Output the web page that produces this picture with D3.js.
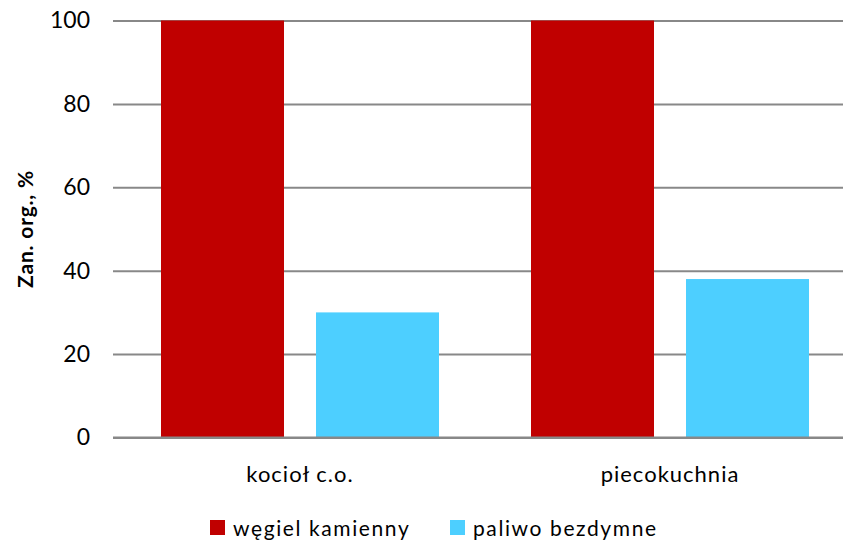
<!DOCTYPE html>
<html>
<head>
<meta charset="utf-8">
<script src="https://cdn.jsdelivr.net/npm/d3@7"></script>
<style>
  html, body { margin: 0; padding: 0; background: #fff; }
  svg { display: block; font-family: Lato, "Open Sans", sans-serif; }
</style>
</head>
<body>
<svg id="chart" width="843" height="542"></svg>
<script>
// Combustion categories and the share of organic residue per fuel type
const categories = ["kocioł c.o.", "piecokuchnia"];
const seriesNames = ["węgiel kamienny", "paliwo bezdymne"];
const coalValues = [100, 100];
const smokelessValues = [30, 38];
const yTicks = [0, 20, 40, 60, 80, 100];
const yTitle = "Zan. org., %";
const colors = ["#C00000", "#4DCFFF"];

const svg = d3.select("#chart");
const margin = { top: 20.5, right: -10, bottom: 104.5, left: 113 };
const W = 843, H = 542;
const innerW = W - margin.left - margin.right;
const innerH = H - margin.top - margin.bottom;

const g = svg.append("g").attr("transform", `translate(${margin.left},${margin.top})`);

const x0 = d3.scaleBand().domain(categories).range([0, innerW]);
// two bars per group, 123 px wide with a 32 px gap
const x1 = d3.scaleBand().domain(seriesNames).range([48, 326]).paddingInner(32 / 155).paddingOuter(0);
const y = d3.scaleLinear().domain([0, 100]).range([innerH, 0]);

// Horizontal gridlines with tick labels
const yAxis = d3.axisLeft(y).tickValues(yTicks).tickSize(-(W - margin.left)).tickPadding(23);
const yg = g.append("g").call(yAxis);
yg.select(".domain").remove();
yg.selectAll(".tick line").attr("stroke", "#888").attr("stroke-width", 2);
yg.selectAll(".tick text").attr("fill", "#000").attr("font-size", 23).attr("font-family", "Lato, sans-serif");

// Bars
const rows = categories.map((c, i) => ({ cat: c, vals: [coalValues[i], smokelessValues[i]] }));
const grp = g.selectAll(".cat").data(rows).join("g")
  .attr("transform", d => `translate(${x0(d.cat)},0)`);
grp.selectAll("rect").data(d => d.vals.map((v, j) => ({ s: seriesNames[j], v, j })))
  .join("rect")
  .attr("x", d => x1(d.s))
  .attr("width", x1.bandwidth())
  .attr("y", d => y(d.v))
  .attr("height", d => innerH - y(d.v))
  .attr("fill", d => colors[d.j]);

// Baseline redrawn above bars
g.append("line").attr("x1", 0).attr("x2", W - margin.left).attr("y1", innerH).attr("y2", innerH)
  .attr("stroke", "#888").attr("stroke-width", 2);

// Category labels, centred under each pair of bars
const groupMid = (x1(seriesNames[0]) + x1(seriesNames[1]) + x1.bandwidth()) / 2;
g.selectAll(".catlab").data(categories).join("text")
  .attr("x", d => x0(d) + groupMid)
  .attr("y", innerH + 44)
  .attr("text-anchor", "middle")
  .attr("font-size", 22)
  .attr("letter-spacing", 1)
  .attr("fill", "#000")
  .text(d => d);

// Y axis title
svg.append("text")
  .attr("transform", `translate(33,${margin.top + innerH / 2}) rotate(-90)`)
  .attr("text-anchor", "middle")
  .attr("font-weight", "bold")
  .attr("font-size", 21)
  .attr("letter-spacing", 0.8)
  .attr("fill", "#000")
  .text(yTitle);

// Legend
const legendX = [210, 450];
const lg = svg.selectAll(".leg").data(seriesNames).join("g")
  .attr("transform", (d, i) => `translate(${legendX[i]},520)`);
lg.append("rect").attr("width", 15).attr("height", 15).attr("fill", (d, i) => colors[i]);
lg.append("text").attr("x", 23).attr("y", 16).attr("font-size", 21).attr("letter-spacing", 1.6)
  .attr("fill", "#000").text(d => d);
</script>
</body>
</html>
